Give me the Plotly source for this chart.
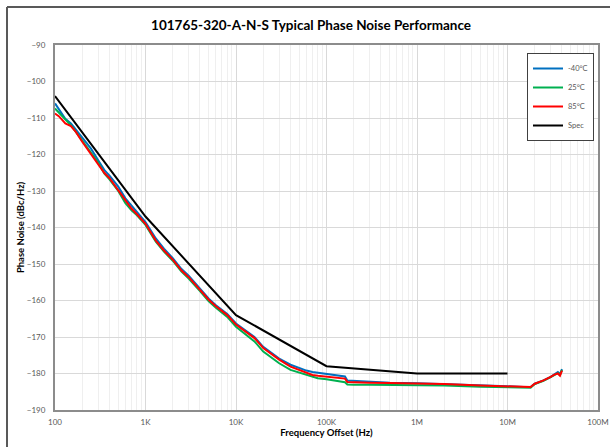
import plotly.graph_objects as go

# ---- data ----
freq_hz = [100, 110, 120, 130, 150, 170, 200, 250, 300, 350, 400, 500, 600, 700, 800,
           1000, 1300, 1600, 2000, 2500, 3000, 4000, 5000, 6000, 8000,
           10000, 13000, 16000, 20000, 25000, 30000, 40000, 50000, 60000, 70000, 80000,
           100000, 130000, 160000, 170000, 200000, 300000, 500000,
           1e6, 2e6, 5e6, 1e7, 1.5e7, 1.8e7, 2e7, 2.5e7, 3e7, 3.3e7, 3.6e7, 3.8e7, 4e7]

pn_minus40 = [-106.0, -107.5, -109.0, -110.2, -111.5, -113.2, -115.6, -118.4, -121.6, -124.2, -125.8,
              -128.8, -132.0, -134.0, -135.6,
              -138.5, -143.0, -145.8, -148.4, -151.4, -153.2, -156.6, -159.5, -161.3, -163.7,
              -166.3, -168.3, -170.0, -172.7, -174.6, -175.9, -177.6, -178.6, -179.2, -179.6, -179.8,
              -180.2, -180.4, -180.8, -181.9, -182.0, -182.2, -182.5,
              -182.7, -182.9, -183.3, -183.5, -183.7, -183.7, -182.8, -181.9, -180.9, -180.3, -179.6, -180.2, -178.8]

pn_25 = [-107.4, -108.5, -109.5, -110.6, -112.0, -113.8, -116.3, -119.5, -122.2, -125.2, -126.8,
         -130.0, -133.3, -135.3, -136.6,
         -139.3, -143.9, -146.6, -149.1, -152.1, -154.0, -157.4, -160.2, -162.0, -164.5,
         -167.2, -169.4, -171.2, -174.0, -175.9, -177.2, -179.0, -179.8, -180.4, -181.0, -181.3,
         -181.6, -182.0, -182.4, -183.0, -183.1, -183.1, -183.1,
         -183.2, -183.3, -183.6, -183.8, -184.0, -183.9, -182.9, -182.0, -181.0, -180.4, -179.9, -180.4, -179.0]

pn_85 = [-108.8, -109.5, -110.5, -111.5, -112.2, -113.8, -116.5, -119.8, -122.5, -125.0, -126.5,
         -129.8, -132.8, -134.8, -136.3,
         -139.0, -143.6, -146.3, -148.8, -151.8, -153.6, -157.0, -159.8, -161.6, -164.0,
         -166.6, -168.6, -170.3, -173.0, -174.9, -176.2, -178.1, -179.0, -179.8, -180.4, -180.6,
         -180.9, -181.1, -181.4, -182.3, -182.4, -182.5, -182.6,
         -182.7, -182.9, -183.3, -183.5, -183.7, -183.7, -182.8, -181.9, -180.9, -180.3, -180.0, -180.6, -179.2]

spec_hz = [100, 1000, 10000, 100000, 1e6, 1e7]
spec_dbc = [-104, -137, -164, -178, -180, -180]

x_tick_vals = [1e2, 1e3, 1e4, 1e5, 1e6, 1e7, 1e8]
x_tick_text = ["100", "1K", "10K", "100K", "1M", "10M", "100M"]

series_names = ["-40°C", "25°C", "85°C", "Spec"]
series_colors = ["#0070C0", "#00B050", "#FF0000", "#000000"]

# ---- figure ----
fig = go.Figure()
for name, ys, col in zip(series_names[:3], [pn_minus40, pn_25, pn_85], series_colors[:3]):
    fig.add_trace(go.Scatter(x=freq_hz, y=ys, mode="lines", name=name,
                             line=dict(color=col, width=2)))
fig.add_trace(go.Scatter(x=spec_hz, y=spec_dbc, mode="lines", name=series_names[3],
                         line=dict(color=series_colors[3], width=2)))

minor_vals = [m * 10 ** e for e in range(2, 8) for m in range(2, 10)]

font_fam = "Lato, 'Open Sans', sans-serif"

W, H = 610, 447
ML, MR, MT, MB = 55, 12, 45, 37
px_w, px_h = W - ML - MR, H - MT - MB

fig.update_layout(
    width=W, height=H,
    margin=dict(l=ML, r=MR, t=MT, b=MB, autoexpand=False),
    paper_bgcolor="white", plot_bgcolor="white",
    font=dict(family=font_fam, color="#595959", size=8),
    title=dict(text="<b>101765-320-A-N-S Typical Phase Noise Performance</b>",
               x=0.51, xanchor="center", y=1 - 25 / H, yanchor="middle",
               automargin=False,
               font=dict(size=13.5, color="#000000", family=font_fam)),
    showlegend=True,
    legend=dict(x=(594 - ML) / px_w, xanchor="right", y=(H - MB - 53) / px_h, yanchor="top",
                bgcolor="white", bordercolor="#404040", borderwidth=1,
                font=dict(size=7.5, color="#595959"), itemwidth=30,
                tracegroupgap=0),
    xaxis=dict(type="log", range=[2, 8], tickvals=x_tick_vals, ticktext=x_tick_text,
               automargin=False,
               showgrid=True, gridcolor="#d9d9d9", gridwidth=1,
               minor=dict(tickvals=minor_vals, showgrid=True, gridcolor="#efefef", gridwidth=1),
               showline=True, linecolor="#8c8c8c", linewidth=2, mirror=True,
               ticks="", ticklabelstandoff=3, zeroline=False,
               title=dict(text="<b>Frequency Offset (Hz)</b>", standoff=4,
                          font=dict(size=9.5, color="#000000"))),
    yaxis=dict(range=[-190, -90], dtick=10, tick0=-190,
               automargin=False,
               showgrid=True, gridcolor="#d9d9d9", gridwidth=1,
               showline=True, linecolor="#8c8c8c", linewidth=2, mirror=True,
               ticks="", ticklabelstandoff=6, zeroline=False,
               title=dict(text="<b>Phase Noise (dBc/Hz)</b>", standoff=1,
                          font=dict(size=9.5, color="#000000"))),
)

# outer chart frame (left and top edges visible in the reference)
x_left = (7 - ML) / px_w
y_top = (H - MB - 7) / px_h
fig.add_shape(type="line", xref="paper", yref="paper", x0=x_left, x1=(W - ML) / px_w,
              y0=y_top, y1=y_top, line=dict(color="#595959", width=2))
fig.add_shape(type="line", xref="paper", yref="paper", x0=x_left, x1=x_left,
              y0=y_top, y1=-MB / px_h, line=dict(color="#595959", width=2))

fig.write_html("out.html", config={"displayModeBar": False},
               post_script="document.body.style.margin='0';document.body.style.overflow='hidden';")
